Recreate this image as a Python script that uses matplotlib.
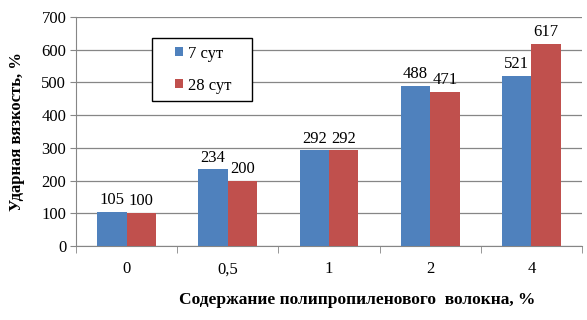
import matplotlib
matplotlib.use("Agg")
import matplotlib.pyplot as plt
from matplotlib.patches import Rectangle
import numpy as np

categories = ["0", "0,5", "1", "2", "4"]
series_names = ["7 сут", "28 сут"]
vals_7 = [105, 234, 292, 488, 521]
vals_28 = [100, 200, 292, 471, 617]
colors = ["#4F81BD", "#C0504D"]

plt.rcParams['font.family'] = ['Liberation Serif', 'DejaVu Serif']

fig = plt.figure(figsize=(5.87, 3.2), dpi=100)
ax = fig.add_axes([76/587, 1-246/320, 506/587, 229/320])

x = np.arange(len(categories))
w = 0.29
b1 = ax.bar(x - w/2, vals_7, w, color=colors[0], label=series_names[0], zorder=3)
b2 = ax.bar(x + w/2, vals_28, w, color=colors[1], label=series_names[1], zorder=3)
for bars, vals in ((b1, vals_7), (b2, vals_28)):
    for r, v in zip(bars, vals):
        ax.text(r.get_x() + r.get_width()/2, v + 12, str(v), ha='center', va='bottom', fontsize=12)

ax.set_xlim(-0.5, len(categories) - 0.5)
ax.set_ylim(0, 700)
ax.set_yticks(range(0, 701, 100))
ax.yaxis.grid(True, color='#868686', linewidth=0.9, zorder=0)
ax.set_axisbelow(True)
ax.set_xticks(x)
ax.set_xticklabels(categories, fontsize=12)
ax.set_xticks(np.arange(-0.5, len(categories), 1.0), minor=True)
ax.tick_params(axis='x', which='major', length=0, pad=11)
ax.tick_params(axis='x', which='minor', length=5, color='#868686')
ax.tick_params(axis='y', length=4, color='#868686', labelsize=12, pad=3)
for s in ('top', 'right'):
    ax.spines[s].set_visible(False)
for s in ('left', 'bottom'):
    ax.spines[s].set_color('#868686')

ax.set_ylabel("Ударная вязкость, %", fontsize=12, fontweight='bold', labelpad=12)
fig.text(357/587, 1-300/320, "Содержание полипропиленового  волокна, %", ha='center', va='center',
         fontsize=12.5, fontweight='bold')

box = Rectangle((0.150, 0.633), 0.198, 0.275, transform=ax.transAxes, facecolor='white',
                edgecolor='black', linewidth=1.0, zorder=5)
ax.add_patch(box)
leg = ax.legend(loc='center left', bbox_to_anchor=(0.196, 0.77), fontsize=12, frameon=False,
                handlelength=0.45, handleheight=0.45, labelspacing=0.95, borderpad=0,
                handletextpad=0.3, borderaxespad=0)
leg.set_zorder(6)

fig.savefig("out.png", dpi=100)
